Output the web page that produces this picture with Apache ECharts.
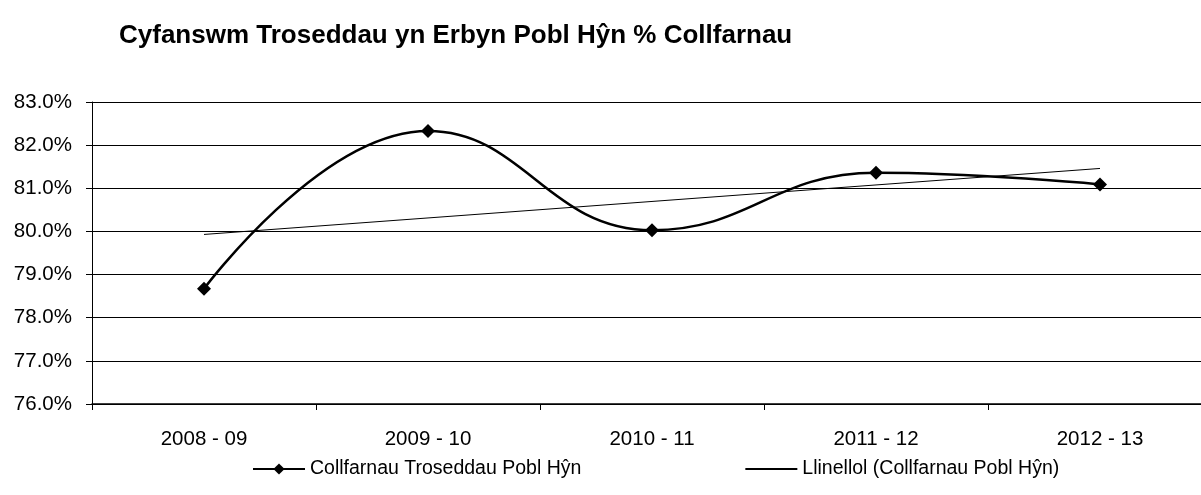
<!DOCTYPE html>
<html>
<head>
<meta charset="utf-8">
<script src="https://cdn.jsdelivr.net/npm/echarts@6/dist/echarts.min.js"></script>
<style>
  html, body { margin: 0; padding: 0; background: #fff; overflow: hidden; }
  /* the plot runs past the right edge in the original, so the div is a bit wider than the page */
  #chart { width: 1215px; height: 495px; }
</style>
</head>
<body>
<div id="chart"></div>
<script>
// blynyddoedd
const years = ['2008 - 09', '2009 - 10', '2010 - 11', '2011 - 12', '2012 - 13'];
// % collfarnau
const convictions = [78.67, 82.33, 80.03, 81.36, 81.09];
// llinell duedd - dim ond y pennau, wedi'u darllen o'r llun
const trend = [79.93, null, null, null, 81.46];
const yTicks = [76, 77, 78, 79, 80, 81, 82, 83];

const chart = echarts.init(document.getElementById('chart'));
const font = 'Liberation Sans, Arial, sans-serif';

const option = {
  backgroundColor: '#fff',
  animation: false,
  title: {
    text: 'Cyfanswm Troseddau yn Erbyn Pobl Hŷn % Collfarnau',
    left: 114,
    top: 18,
    textStyle: { fontFamily: font, fontSize: 26, fontWeight: 'bold', color: '#000' }
  },
  legend: {
    left: 247,
    top: 454,
    itemWidth: 52,
    itemHeight: 14,
    itemGap: 163,
    textStyle: { fontFamily: font, fontSize: 19.5, color: '#000' },
    data: [
      { name: 'Collfarnau Troseddau Pobl Hŷn' },
      { name: 'Llinellol (Collfarnau Pobl Hŷn)', itemStyle: { opacity: 0 } }
    ]
  },
  grid: { left: 92, top: 102, width: 1120, height: 302 },
  xAxis: {
    type: 'category',
    data: years,
    boundaryGap: true,
    axisLine: { lineStyle: { color: '#000', width: 1.5 } },
    axisTick: { show: true, length: 6, lineStyle: { color: '#000' } },
    axisLabel: { fontFamily: font, fontSize: 20.5, color: '#000', margin: 25 }
  },
  yAxis: {
    type: 'value',
    min: yTicks[0],
    max: yTicks[yTicks.length - 1],
    interval: 1,
    axisLine: { show: true, lineStyle: { color: '#000', width: 1 } },
    axisTick: { show: true, length: 6, lineStyle: { color: '#000' } },
    axisLabel: {
      fontFamily: font, fontSize: 20.5, color: '#000', margin: 20,
      formatter: v => v.toFixed(1) + '%'
    },
    splitLine: { lineStyle: { color: '#000', width: 1.2 } }
  },
  series: [
    {
      name: 'Collfarnau Troseddau Pobl Hŷn',
      type: 'line',
      data: convictions,
      smooth: 0.45,
      symbol: 'diamond',
      symbolSize: 14,
      itemStyle: { color: '#000' },
      lineStyle: { color: '#000', width: 2.5 },
      z: 3
    },
    {
      name: 'Llinellol (Collfarnau Pobl Hŷn)',
      type: 'line',
      data: trend,
      connectNulls: true,
      symbol: 'none',
      itemStyle: { color: '#000' },
      lineStyle: { color: '#000', width: 1 },
      z: 2
    }
  ]
};

chart.setOption(option);
</script>
</body>
</html>
